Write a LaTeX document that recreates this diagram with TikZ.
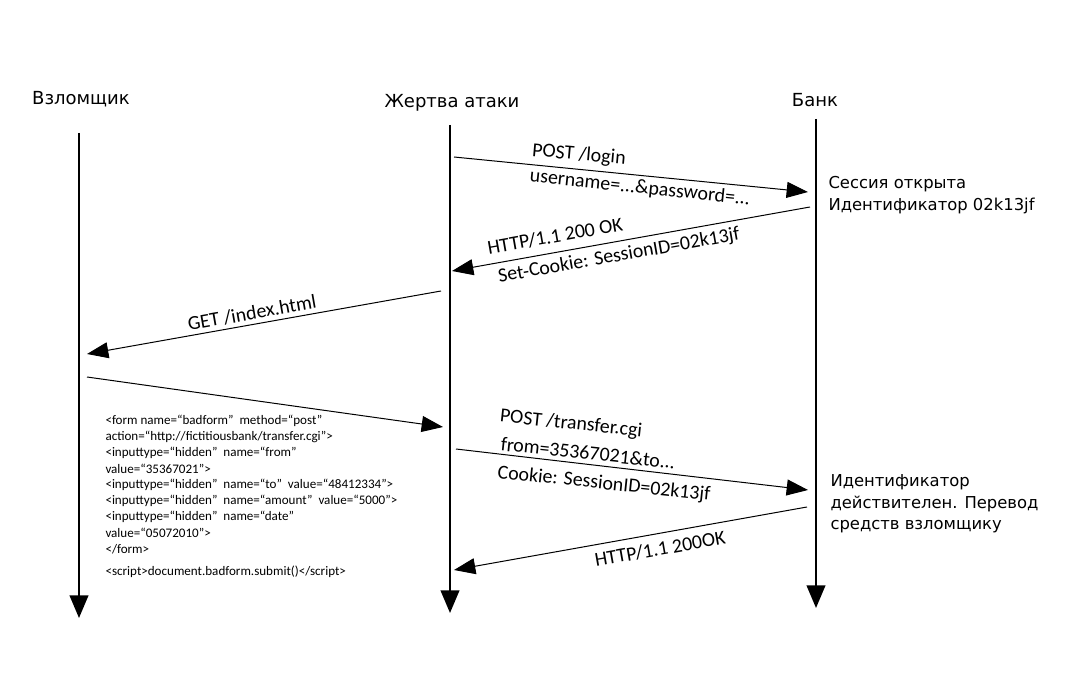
\documentclass[tikz,border=0pt]{standalone}
\usepackage{fontspec}
\setmainfont{DejaVu Sans}
\newfontfamily\calfont{Carlito}
\usetikzlibrary{arrows.meta}

\tikzset{every picture/.style={line width=0.75pt}}
\tikzset{
  lifeline/.style={line width=1.5pt,-{Triangle[length=17pt,width=14pt]}},
  msg/.style={line width=0.75pt,-{Triangle[length=16pt,width=12pt]}},
  actor/.style={inner sep=0.75pt,font=\fontsize{13.5}{16}\selectfont},
  note/.style={inner sep=0.75pt,anchor=north west,align=left,font=\fontsize{12.3}{16.3}\selectfont},
  msglabel/.style={inner sep=0pt,font=\calfont\fontsize{14.9}{17}\selectfont},
  htmlline/.style={inner sep=0.75pt,anchor=west,font=\calfont\fontsize{9.8}{11}\selectfont}
}

\begin{document}
\begin{tikzpicture}[x=0.75pt,y=0.75pt,yscale=-1,xscale=1]
\useasboundingbox (0,0) rectangle (1076,698);

% Text Node
\node [actor] (attacker) at (81,99) {Взломщик};
% Text Node
\node [actor] (victim) at (452,103) {Жертва атаки};
% Text Node
\node [actor] (bank) at (815,100) {Банк};

%Lifelines
\coordinate (attacker-top) at (79,133);
\coordinate (attacker-end) at (79,618);
\coordinate (victim-top) at (450,125);
\coordinate (victim-end) at (450,613);
\coordinate (bank-top) at (816,119);
\coordinate (bank-end) at (816,608);
\draw [lifeline] (attacker-top) -- (attacker-end);
\draw [lifeline] (victim-top) -- (victim-end);
\draw [lifeline] (bank-top) -- (bank-end);

%Message ends
\coordinate (login-s) at (454,157);
\coordinate (login-e) at (808,192);
\coordinate (cookie-s) at (810,207);
\coordinate (cookie-e) at (452,271);
\coordinate (index-s) at (441,291);
\coordinate (index-e) at (87,354);
\coordinate (form-s) at (87,377);
\coordinate (form-e) at (443,427);
\coordinate (transfer-s) at (456,449);
\coordinate (transfer-e) at (808,490);
\coordinate (ok-s) at (807,507);
\coordinate (ok-e) at (454,570);

%Straight Lines
\draw [msg] (login-s) -- (login-e);
\draw [msg] (cookie-s) -- (cookie-e);
\draw [msg] (index-s) -- (index-e);
\draw [msg] (form-s) -- (form-e);
\draw [msg] (transfer-s) -- (transfer-e);
\draw [msg] (ok-s) -- (ok-e);

% Text Node
\node [msglabel,rotate=-5] (loginlbl) at (579,155) {POST /login};
\node [msglabel,rotate=-6] (credlbl) at (640,188) {username=...\&password=...};
% Text Node
\node [msglabel,rotate=10] (httplbl) at (555,236) {HTTP/1.1 200 OK};
\node [msglabel,rotate=10] (setcookielbl) at (619,256) {Set-Cookie: SessionID=02k13jf};
% Text Node
\node [msglabel,rotate=10] (indexlbl) at (252,313) {GET /index.html};
% Text Node
\node [msglabel,rotate=-6] (transferlbl) at (571,424) {POST /transfer.cgi};
\node [msglabel,rotate=-6] (fromlbl) at (588,453) {from=35367021\&to...};
\node [msglabel,rotate=-6] (cookielbl) at (604,484) {Cookie: SessionID=02k13jf};
% Text Node
\node [msglabel,rotate=10] (oklbl) at (660,549) {HTTP/1.1 200OK};

% Text Node
\node [note] (opened) at (827,175) {Сессия открыта\\Идентификатор 02k13jf};
% Text Node
\node [note] (valid) at (829,473) {Идентификатор\\действителен. Перевод\\средств взломщику};

% Text Node
\node [htmlline] (h1) at (104,421) {<form name=“badform”~~method=“post”};
\node [htmlline] (h2) at (104,437) {action=“http://fictitiousbank/transfer.cgi”>};
\node [htmlline] (h3) at (104,453) {<inputtype=“hidden”~~name=“from”};
\node [htmlline] (h4) at (104,469) {value=“35367021”>};
\node [htmlline] (h5) at (104,485) {<inputtype=“hidden”~~name=“to”~~value=“48412334”>};
\node [htmlline] (h6) at (104,501) {<inputtype=“hidden”~~name=“amount”~~value=“5000”>};
\node [htmlline] (h7) at (104,517) {<inputtype=“hidden”~~name=“date”};
\node [htmlline] (h8) at (104,533) {value=“05072010”>};
\node [htmlline] (h9) at (104,549) {</form>};
\node [htmlline] (h10) at (104,572) {<script>document.badform.submit()</script>};

\end{tikzpicture}
\end{document}
